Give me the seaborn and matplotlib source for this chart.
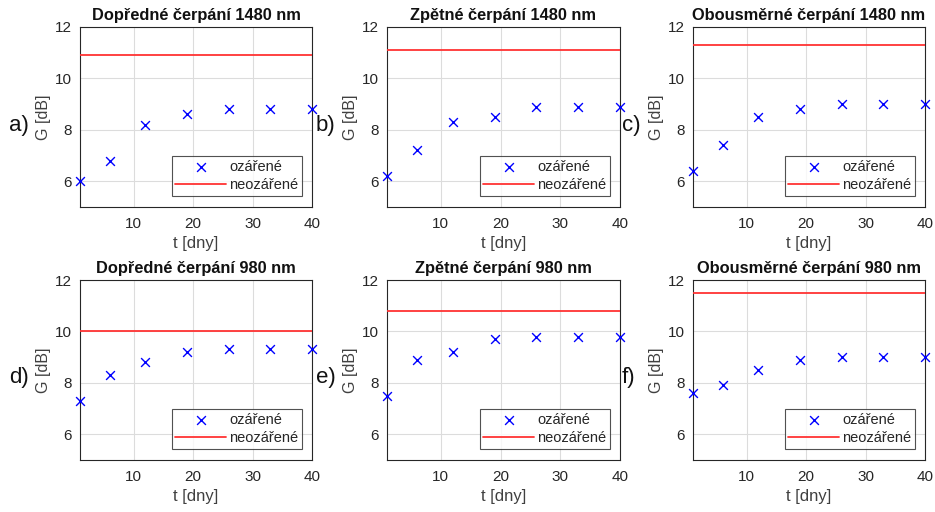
import matplotlib
matplotlib.use("Agg")
import matplotlib.pyplot as plt
import seaborn as sns
import pandas as pd

sns.set_theme(style="white")
plt.rcParams["font.family"] = ["Liberation Sans", "DejaVu Sans"]

# measurement days
days = [1, 6, 12, 19, 26, 33, 40]

# gain of the irradiated fibre [dB]
gain_fwd_1480 = [6.0, 6.8, 8.2, 8.62, 8.83, 8.83, 8.83]
gain_bwd_1480 = [6.2, 7.2, 8.3, 8.5, 8.9, 8.9, 8.9]
gain_bi_1480 = [6.4, 7.4, 8.5, 8.8, 9.0, 9.0, 9.0]
gain_fwd_980 = [7.3, 8.3, 8.8, 9.2, 9.3, 9.3, 9.3]
gain_bwd_980 = [7.5, 8.9, 9.2, 9.7, 9.8, 9.8, 9.8]
gain_bi_980 = [7.6, 7.9, 8.5, 8.9, 9.0, 9.0, 9.0]

# gain of the non-irradiated fibre [dB]
ref_gain = [10.9, 11.1, 11.3, 10.0, 10.8, 11.5]

titles = [
    "Dopředné čerpání 1480 nm",
    "Zpětné čerpání 1480 nm",
    "Obousměrné čerpání 1480 nm",
    "Dopředné čerpání 980 nm",
    "Zpětné čerpání 980 nm",
    "Obousměrné čerpání 980 nm",
]
letters = ["a)", "b)", "c)", "d)", "e)", "f)"]
series = [gain_fwd_1480, gain_bwd_1480, gain_bi_1480,
          gain_fwd_980, gain_bwd_980, gain_bi_980]

fig = plt.figure(figsize=(9.35, 5.12), dpi=100)
W, H = 935, 512
lefts = [80, 387, 693]
widths = [232, 233, 232]
tops = [27, 280]
ax_h = 180

txt = "#262626"
for i in range(6):
    r, c = divmod(i, 3)
    ax = fig.add_axes([lefts[c] / W, 1 - (tops[r] + ax_h) / H, widths[c] / W, ax_h / H])
    df = pd.DataFrame({"t": days, "G": series[i]})
    ref = pd.DataFrame({"t": [days[0], days[-1]], "G": [ref_gain[i]] * 2})
    sns.scatterplot(data=df, x="t", y="G", ax=ax, marker="x", color="#0000ff",
                    s=40, linewidth=1.0, label="ozářené", zorder=3, clip_on=False)
    sns.lineplot(data=ref, x="t", y="G", ax=ax, color="#ff3333", linewidth=1.3,
                 label="neozářené", zorder=3)
    ax.set_xlim(1, 40)
    ax.set_ylim(5, 12)
    ax.set_xticks([10, 20, 30, 40])
    ax.set_yticks([6, 8, 10, 12])
    ax.grid(True, color="#dcdcdc", linewidth=0.8)
    ax.set_axisbelow(True)
    ax.tick_params(direction="in", length=3, labelsize=11, colors=txt,
                   labelcolor=txt)
    ax.tick_params(axis="x", pad=7)
    ax.tick_params(axis="y", pad=6)
    for sp in ax.spines.values():
        sp.set_color("#262626")
        sp.set_linewidth(0.8)
    ax.set_xlabel("t [dny]", fontsize=12, color="#404040", labelpad=4)
    ax.set_ylabel("G [dB]", fontsize=11.5, color="#404040", labelpad=3)
    ax.set_title(titles[i], fontsize=11.8, fontweight="bold", color="#111111", pad=5)
    leg = ax.legend(loc="lower right", bbox_to_anchor=(0.957, 0.061), fontsize=10.5,
                    frameon=True, fancybox=False, borderpad=0.25, labelspacing=0.3,
                    handlelength=3.5, handletextpad=0.2, borderaxespad=0)
    leg.get_frame().set_edgecolor("#262626")
    leg.get_frame().set_linewidth(0.8)
    for t in leg.get_texts():
        t.set_color(txt)
    fig.text((lefts[c] - 80 + 9) / W, 1 - (tops[r] + 98) / H, letters[i],
             fontsize=16, color="#111111", va="center", ha="left")

fig.savefig("out.png", dpi=100, facecolor="white")
